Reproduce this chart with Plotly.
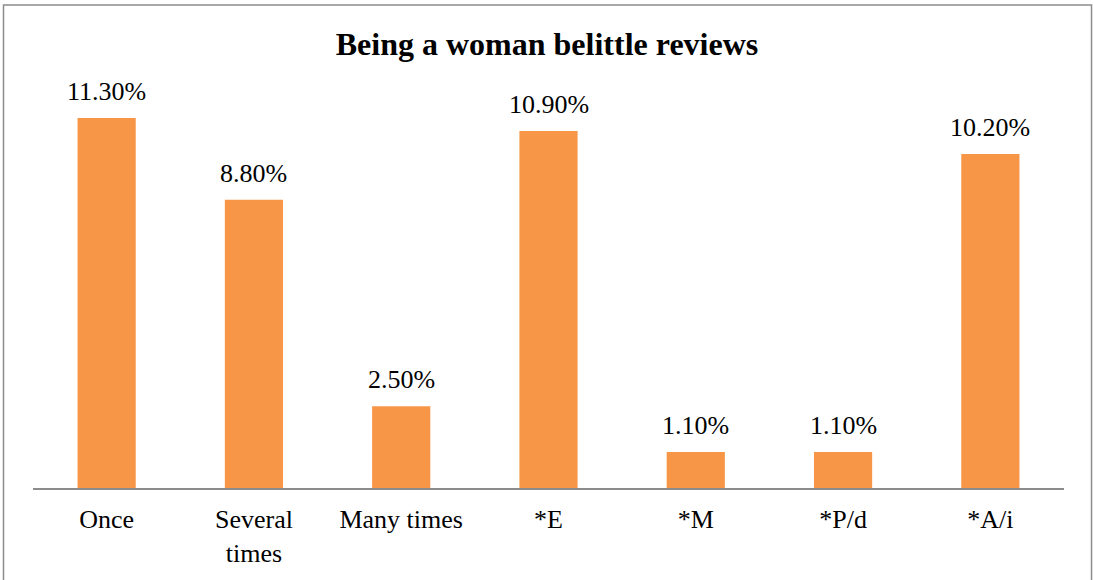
import plotly.graph_objects as go

categories = ["Once", "Several<br>times", "Many times", "*E", "*M", "*P/d", "*A/i"]
values = [11.3, 8.8, 2.5, 10.9, 1.1, 1.1, 10.2]
labels = ["11.30%", "8.80%", "2.50%", "10.90%", "1.10%", "1.10%", "10.20%"]

FONT = "Liberation Serif, Times New Roman, serif"

fig = go.Figure()
fig.add_trace(go.Bar(
    x=categories, y=values,
    marker=dict(color="#F79646", line=dict(width=0)),
    width=0.395,
    hoverinfo="skip",
))

for c, v, t in zip(categories, values, labels):
    fig.add_annotation(x=c, y=v, text=t, showarrow=False, yanchor="bottom",
                       yshift=10, font=dict(family=FONT, size=26, color="#000000"))

fig.add_shape(type="rect", xref="paper", yref="paper",
              x0=-0.0286, x1=1.0267, y0=-0.3, y1=1.229,
              line=dict(color="#8c8c8c", width=1.5), fillcolor="rgba(0,0,0,0)", layer="below")

fig.update_layout(
    width=1094, height=580,
    margin=dict(l=33, r=30, t=95, b=92),
    paper_bgcolor="white", plot_bgcolor="white",
    showlegend=False,
    title=dict(text="<b>Being a woman belittle reviews</b>", x=0.5, xanchor="center",
               y=0.924, yanchor="middle",
               font=dict(family=FONT, size=32, color="#000000")),
    font=dict(family=FONT, size=26, color="#000000"),
    bargap=0.6,
)
fig.update_xaxes(showline=True, linecolor="#8c8c8c", linewidth=2, ticks="",
                 tickfont=dict(family=FONT, size=26, color="#000000"),
                 showgrid=False, zeroline=False, ticklabelstandoff=7)
fig.update_yaxes(range=[0, 12], visible=False, showgrid=False, zeroline=False)

fig.write_html("out.html", config={"displayModeBar": False},
               post_script="document.body.style.margin='0';document.body.style.overflow='hidden';")
